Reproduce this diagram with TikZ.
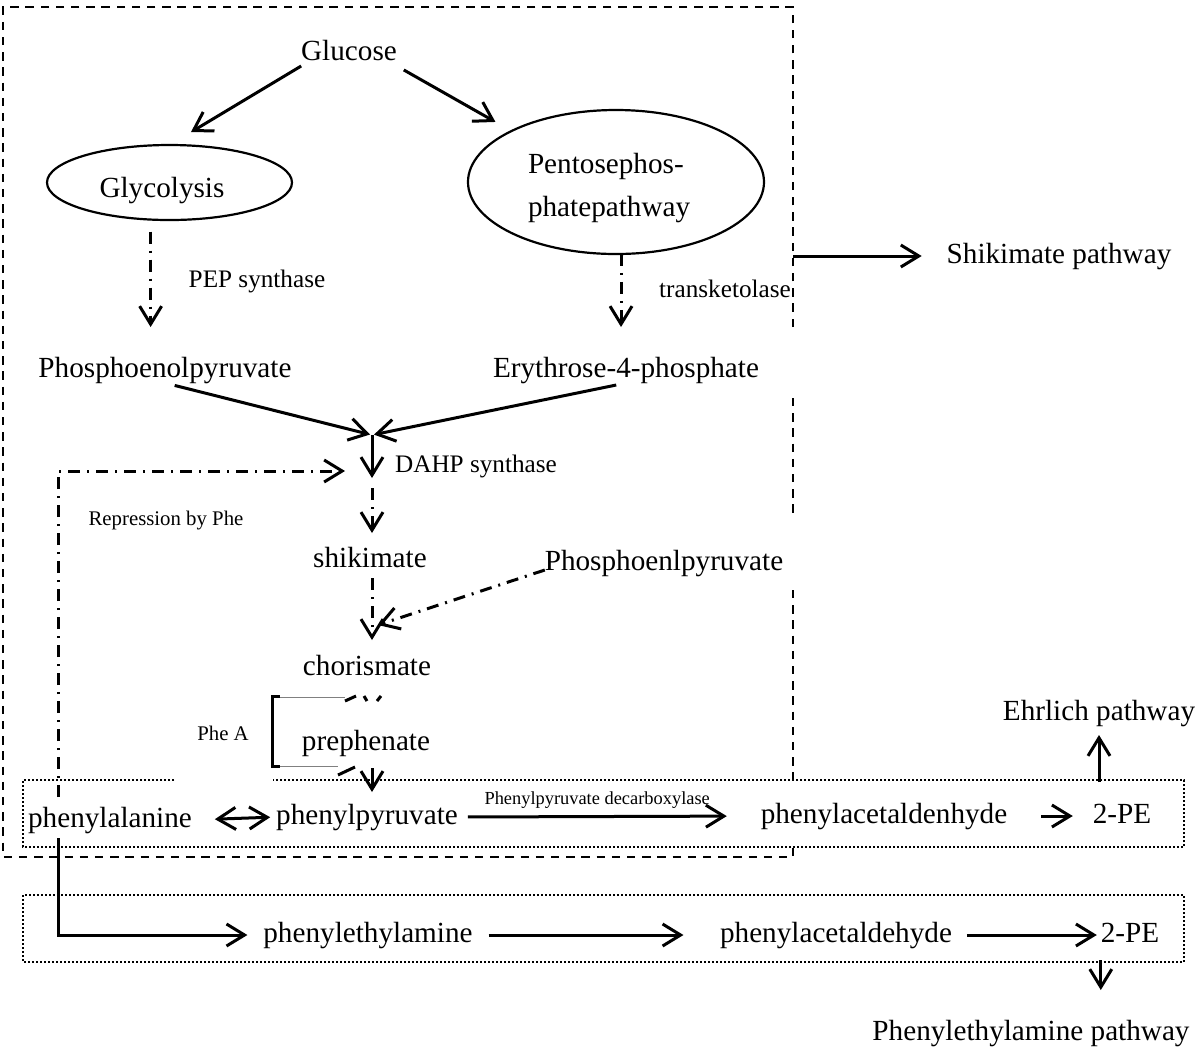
\documentclass[tikz,border=0pt]{standalone}
\usepackage{fontspec}
\setmainfont{Liberation Serif}
\usetikzlibrary{shapes,arrows.meta}

\begin{document}
\begin{tikzpicture}[y=0.5pt, x=0.5pt,yscale=-1, inner sep=0pt, outer sep=0pt,
  txt/.style={anchor=base,text height=10pt,text depth=3pt,font=\fontsize{14.6}{17}\selectfont},
  enz/.style={txt,font=\fontsize{12.6}{15}\selectfont},
  note/.style={txt,font=\fontsize{10.4}{12}\selectfont},
  arr/.style={draw=black,line width=1.5pt,-{Straight Barb[length=9pt,width=11pt]}},
  dblarr/.style={arr,{Straight Barb[length=9pt,width=11pt]}-{Straight Barb[length=9pt,width=11pt]}},
  dasharr/.style={arr,dash pattern=on 6pt off 3.5pt on 1pt off 3.5pt},
  boxline/.style={draw=black,line width=1.4pt,dash pattern=on 4.2pt off 3.4pt},
  dotline/.style={draw=black,line width=1pt,dash pattern=on 1pt off 1pt}]
  \useasboundingbox (0,0) rectangle (1200,1046);
  \coordinate (boxse) at (793,857);
  \coordinate (junction) at (372,435);
  \coordinate (pepjoin) at (378,625);
  \coordinate (repcorner) at (58,471);
  \path[boxline] (793,327) -- (793,7) -- (3,7) -- (3,857) -- (boxse) -- (793,848);
  \path[boxline] (793,398) -- (793,518);
  \path[boxline] (793,590) -- (793,780);
  \path[dotline] (174,780) -- (23,780) -- (23,847) -- (1184,847) -- (1184,780) -- (273,780);
  \path[dotline] (23,895) rectangle (1184,962);
  \path (349,60) node[txt] (glucose) {Glucose};
  \path (169.5,182.5) node[draw=black,line width=1.1pt,ellipse,minimum width=122.5pt,
    minimum height=37.5pt] (glycolysis) {};
  \path (162,197) node[txt] (glycolysislabel) {Glycolysis};
  \path (616,182) node[draw=black,line width=1.1pt,ellipse,minimum width=148pt,
    minimum height=72pt] (ppp) {};
  \path (528,153) node[anchor=north west,align=left,font=\fontsize{14.6}{21.5}\selectfont]
    (ppplabel) {Pentosephos-\\phatepathway};
  \path (257,287) node[enz] (pepsyn) {PEP synthase};
  \path (725,297) node[enz] (transket) {transketolase};
  \path (165,377) node[txt] (pep) {Phosphoenolpyruvate};
  \path (626,377) node[txt] (e4p) {Erythrose-4-phosphate};
  \path (476,472) node[enz] (dahp) {DAHP synthase};
  \path (166,525) node[note] (repress) {Repression by Phe};
  \path (370,567) node[txt] (shikimate) {shikimate};
  \path (664,570) node[txt] (pepb) {Phosphoenlpyruvate};
  \path (367,675) node[txt] (chorismate) {chorismate};
  \path (366,750) node[txt] (prephenate) {prephenate};
  \path (223,740) node[note] (phea) {Phe A};
  \path (110,827) node[txt] (phe) {phenylalanine};
  \path (367,824) node[txt] (phepyr) {phenylpyruvate};
  \path (884,823) node[txt] (phacda) {phenylacetaldenhyde};
  \path (1122,823) node[txt] (pea) {2-PE};
  \path (1099,720) node[txt] (ehrlich) {Ehrlich pathway};
  \path (1059,263) node[txt] (shikpw) {Shikimate pathway};
  \path (368,942) node[txt] (pheamine) {phenylethylamine};
  \path (836,942) node[txt] (phacdb) {phenylacetaldehyde};
  \path (1130,942) node[txt] (peb) {2-PE};
  \path (1031,1040) node[txt] (peapw) {Phenylethylamine pathway};
  \path[arr,shorten >=12.5pt] (glucose.south west) -- (glycolysis.north);
  \path[arr,shorten <=4pt,shorten >=9.2pt] (glucose.south east) -- (ppp.154);
  \path[dasharr,shorten <=6pt,shorten >=15pt] (glycolysis.243) -- (glycolysis.243 |- pep.north);
  \path[dasharr,shorten >=15pt] (ppp.274) -- (ppp.274 |- e4p.north);
  \path[arr,shorten <=5pt,shorten >=1pt] (pep.south) -- (junction);
  \path[arr,shorten <=5pt,shorten >=1pt] (e4p.south) -- (junction);
  \path[arr] (junction) -- (junction |- dahp.south);
  \path[dasharr,shorten <=5pt,shorten >=7pt] (junction |- dahp.south) -- (junction |- shikimate.north);
  \path[dasharr,shorten <=2.5pt,shorten >=7.5pt] (shikimate.south -| junction) --
    (chorismate.north -| junction);
  \path[dasharr] (pepb.base west) -- (pepjoin);
  \path[dasharr,shorten <=5pt,shorten >=13.5pt] (phe.north -| repcorner) -- (repcorner) --
    (repcorner -| junction);
  \path[draw=black,line width=1.5pt] (280,696) -- (272,696) -- (272,766) -- (280,766);
  \path[draw=gray,line width=0.5pt] (280,697) -- (345,697);
  \path[draw=gray,line width=0.5pt] (280,766) -- (338,766);
  \path[draw=black,line width=1.5pt] (345,701) -- (356,696);
  \path[draw=black,line width=1.5pt] (338,775) -- (355,767);
  \path[draw=black,line width=1.5pt] (364,696) -- (367,701);
  \path[draw=black,line width=1.5pt] (381,696) -- (377,701);
  \path[arr,shorten <=6pt,shorten >=6pt] (prephenate.south -| junction) -- (phepyr.north -| junction);
  \path[dblarr,shorten <=11.5pt,shorten >=3pt] (phe.east) -- (phepyr.west);
  \path[arr,shorten <=5pt,shorten >=17pt] (phepyr.east) -- node[pos=0.46,above=4pt,
    text height=7pt,text depth=2pt,font=\fontsize{9.2}{11}\selectfont] (decarb)
    {Phenylpyruvate decarboxylase} (phacda.west);
  \path[arr,shorten <=17pt,shorten >=10pt] (phacda.east) -- (pea.west);
  \path[arr,shorten <=10.5pt,shorten >=4.5pt] (ehrlich.south |- pea.north) -- (ehrlich.south);
  \path[arr,shorten >=12.5pt] (boxse |- shikpw.west) -- (shikpw.west);
  \path[arr,shorten <=2.5pt,shorten >=8pt] (phe.south -| repcorner) -- (repcorner |- pheamine.west) --
    (pheamine.west);
  \path[arr,shorten <=8pt,shorten >=18.3pt] (pheamine.east) -- (phacdb.west);
  \path[arr,shorten <=7.5pt,shorten >=2pt] (phacdb.east) -- (peb.west);
  \path[arr,shorten <=6pt,shorten >=15pt] (peb.south west) -- (peb.south west |- peapw.north);
\end{tikzpicture}
\end{document}
